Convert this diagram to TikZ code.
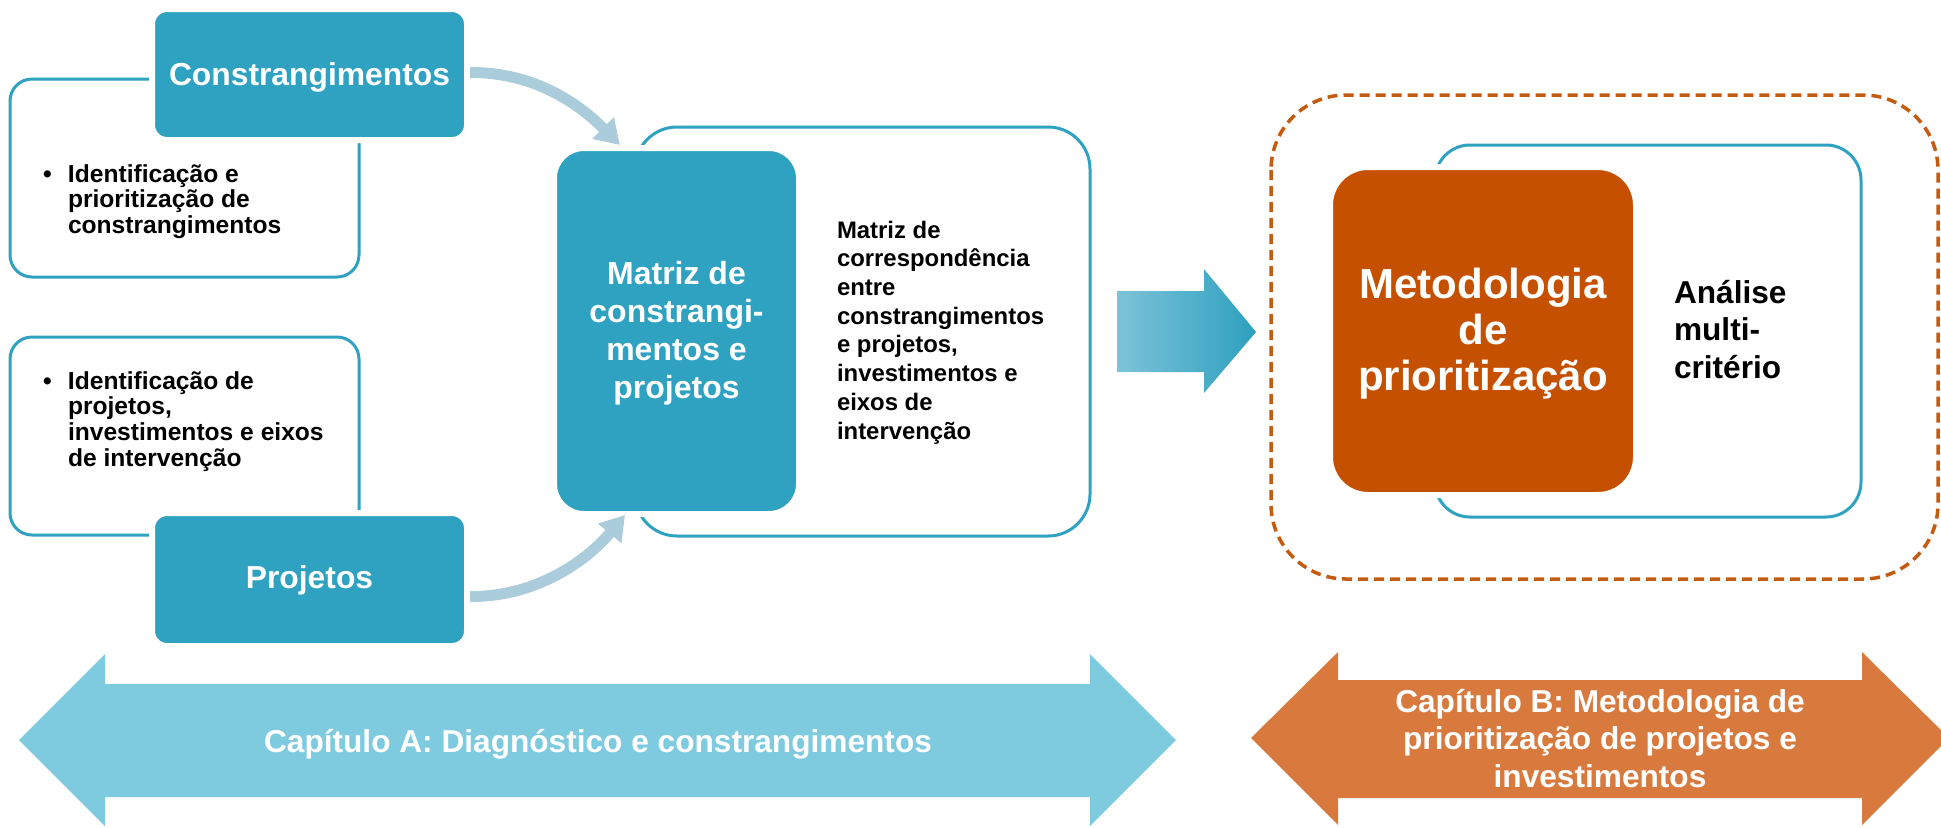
\documentclass[tikz,border=0pt]{standalone}
\usepackage{fontspec}
\setmainfont{Liberation Sans}
\usetikzlibrary{arrows.meta,fit,calc}
\definecolor{tealA}{RGB}{46,162,192}
\definecolor{curveblue}{RGB}{170,204,219}
\definecolor{lightband}{RGB}{126,203,224}
\definecolor{orangeband}{RGB}{216,122,62}
\definecolor{darkorange}{RGB}{197,80,0}
\definecolor{dashorange}{RGB}{197,90,17}
\definecolor{gradL}{RGB}{125,195,215}
\definecolor{gradR}{RGB}{45,160,192}
\newcommand\fsz[2]{\fontsize{#1}{#2}\selectfont\bfseries}
\begin{document}
\begin{tikzpicture}[x=0.1mm,y=-0.1mm,
  outlinebox/.style={draw=tealA, line width=0.3mm, fill=white, inner sep=0pt},
  filledbox/.style={fill=tealA, draw=white, line width=0.6mm, inner sep=0.3mm},
  curvearrow/.style={draw=curveblue, line width=1.1mm, -{Triangle[width=2.9mm,length=2.4mm]}},
  txt/.style={inner sep=0pt, outer sep=0pt}
]
\useasboundingbox (0,0) rectangle (1941,827);
\clip (0,0) rectangle (1941,827);

% left outline boxes
\node[outlinebox, rounded corners=2.2mm, fit={(10,79) (359,277)}] (box1) {};
\node[outlinebox, rounded corners=2.2mm, fit={(10,337) (359,535)}] (box2) {};
% filled title boxes
\node[filledbox, rounded corners=1.5mm, fit={(155,12) (464,137)}] (constr) {};
\node[filledbox, rounded corners=1.5mm, fit={(155,516) (464,643)}] (proj) {};

% matrix
\node[outlinebox, rounded corners=4.2mm, fit={(635,127) (1090,536)}] (matouter) {};
\node[filledbox, rounded corners=3mm, fit={(557,151) (796,511)}] (matriz) {};

% right part
\draw[dashorange, line width=1pt, dash pattern=on 1mm off 0.6mm, rounded corners=7.5mm]
  (1271,95) rectangle (1938,579);
\node[outlinebox, rounded corners=3.5mm, fit={(1435,145) (1861,517)}] (innerbox) {};
\node[filledbox, fill=darkorange, rounded corners=3.8mm, fit={(1333,170) (1633,492)}] (metod) {};

% gradient arrow
\shade[left color=gradL, right color=gradR]
  (1117,291) -- (1204,291) -- (1204,269) -- (1256,332) -- (1204,393) -- (1204,372) -- (1117,372) -- cycle;

% curved arrows
\coordinate (tipA) at (620,145);
\coordinate (tipB) at (625,515);
\draw[curvearrow] ($(constr.east)+(0,-2)$) .. controls (540,72) and (585,110) .. (tipA);
\draw[curvearrow] ($(proj.east)+(0,17)$) .. controls (540,597) and (590,557) .. (tipB);

% bottom double arrows
\fill[lightband] (19,740) -- (105,654) -- (105,684) -- (1090,684) -- (1090,654) -- (1176,740)
  -- (1090,826) -- (1090,797) -- (105,797) -- (105,826) -- cycle;
\fill[orangeband] (1251,738) -- (1338,652) -- (1338,680) -- (1862,680) -- (1862,652) -- (1949,738)
  -- (1862,825) -- (1862,798) -- (1338,798) -- (1338,825) -- cycle;

% texts
\node[txt, text=white, font=\fsz{9.05}{10}, anchor=base] (constrtxt) at (309.5,85) {Constrangimentos};
\node[txt, text=white, font=\fsz{9.05}{10}, anchor=base] (projtxt) at (309.5,588) {Projetos};
\node[txt, anchor=north west, align=left, font=\fsz{7}{7.31}] (box1txt) at (68,157.4)
  {\llap{•\hspace{4.6pt}}\rule{0pt}{1em}Identificação e\\prioritização de\\constrangimentos};
\node[txt, anchor=north west, align=left, font=\fsz{7}{7.31}] (box2txt) at (68,364.4)
  {\llap{•\hspace{4.6pt}}\rule{0pt}{1em}Identificação de\\projetos,\\investimentos e eixos\\de intervenção};
\node[txt, text=white, anchor=north, align=center, font=\fsz{9.1}{10.8}] (matriztxt) at (676.5,253)
  {\rule{0pt}{1em}Matriz de\\constrangi-\\mentos e\\projetos};
\node[txt, anchor=north west, align=left, font=\fsz{6.8}{8.17}] (corrtxt) at (837,214.1)
  {\rule{0pt}{1em}Matriz de\\correspondência\\entre\\constrangimentos\\e projetos,\\investimentos e\\eixos de\\intervenção};
\node[txt, text=white, anchor=north, align=center, font=\fsz{11.95}{13.1}] (metodtxt) at (1483,256)
  {\rule{0pt}{1em}Metodologia\\de\\prioritização};
\node[txt, anchor=north west, align=left, font=\fsz{9}{10.8}] (analtxt) at (1674,271.4)
  {\rule{0pt}{1em}Análise\\multi-\\critério};
\node[txt, text=white, font=\fsz{9}{10}, anchor=base] (captxtA) at (598,752)
  {Capítulo A: Diagnóstico e constrangimentos};
\node[txt, text=white, anchor=north, align=center, font=\fsz{9}{10.67}] (captxtB) at (1600,680.4)
  {\rule{0pt}{1em}Capítulo B: Metodologia de\\prioritização de projetos e\\investimentos};
\end{tikzpicture}
\end{document}
